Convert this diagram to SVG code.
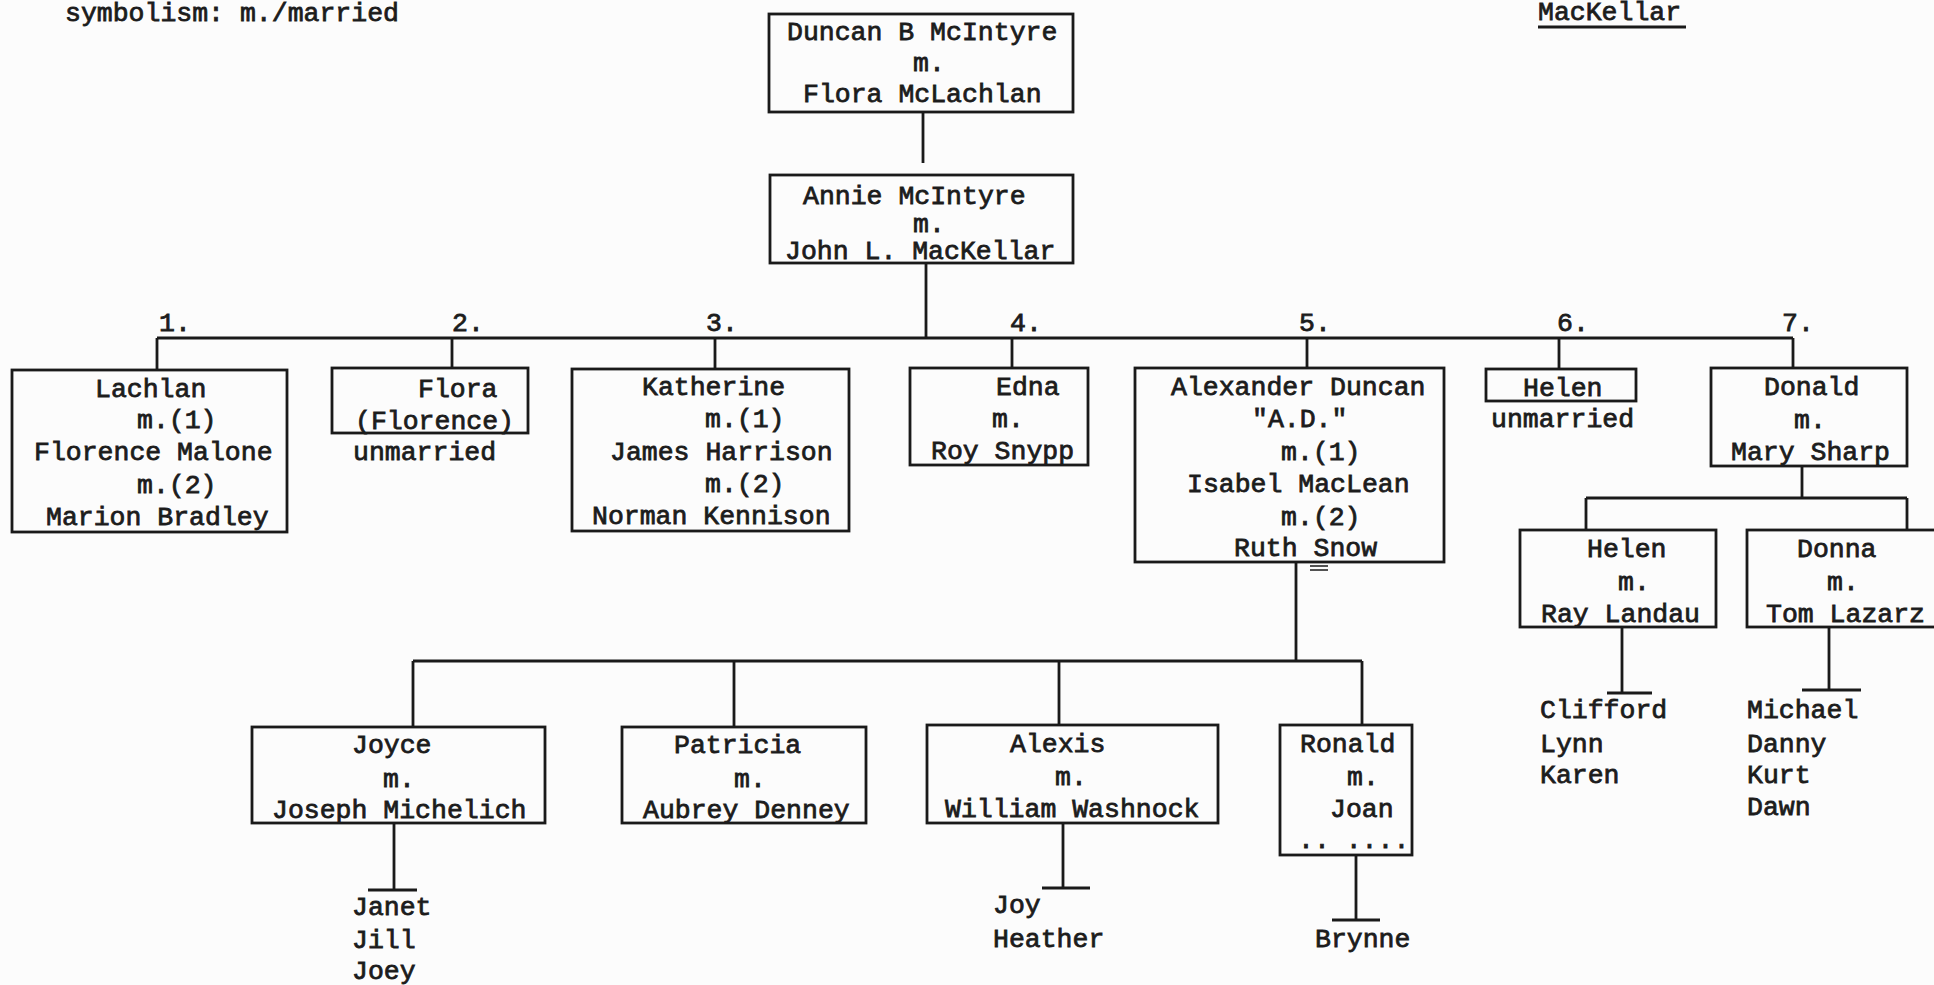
<svg xmlns="http://www.w3.org/2000/svg" width="1934" height="985" viewBox="0 0 1934 985">
<style>
.t { font-family: "Liberation Mono", "DejaVu Sans Mono", monospace; font-size: 26.5px; fill: #1c1c1c; stroke: #1c1c1c; stroke-width: 0.8; }
.b { fill: none; stroke: #1a1a1a; stroke-width: 2.8; }
.c { fill: none; stroke: #1a1a1a; stroke-width: 2.8; }
</style>
<rect x="0" y="0" width="1934" height="985" fill="#fcfcfc"/>

<g id="header">
<text class="t" x="65" y="21">symbolism: m./married</text>
<text class="t" x="1538" y="20">MacKellar</text>
<line class="c" x1="1538" y1="27" x2="1686" y2="27"/>
</g>

<g id="connectors">
<path class="c" d="M923 112 V163"/>
<path class="c" d="M926 263 V338"/>
<path class="c" d="M157 338 H1793"/>
<path class="c" d="M157 338 V370 M452 338 V368 M715 338 V369 M1012 338 V368 M1307 338 V368 M1559 338 V369 M1793 338 V368"/>
<path class="c" d="M1802 466 V498 M1586 498 H1907 M1586 498 V530 M1907 498 V530"/>
<path class="c" d="M1296 562 V661 M413 661 H1362 M413 661 V727 M734 661 V727 M1059 661 V725 M1362 661 V725"/>
<path class="c" d="M394 823 V890 M368 890 H417"/>
<path class="c" d="M1063 823 V888 M1042 888 H1090"/>
<path class="c" d="M1356 855 V920 M1332 920 H1380"/>
<path class="c" d="M1622 627 V693 M1607 693 H1652"/>
<path class="c" d="M1829 627 V690 M1802 690 H1861"/>
</g>

<g id="numbers">
<text class="t" x="159" y="331">1.</text>
<text class="t" x="452" y="331">2.</text>
<text class="t" x="706" y="331">3.</text>
<text class="t" x="1010" y="331">4.</text>
<text class="t" x="1299" y="331">5.</text>
<text class="t" x="1557" y="331">6.</text>
<text class="t" x="1782" y="331">7.</text>
</g>

<g id="duncan">
<rect class="b" x="769" y="14" width="304" height="98"/>
<text class="t" x="787" y="40">Duncan B McIntyre</text>
<text class="t" x="913" y="71">m.</text>
<text class="t" x="803" y="102">Flora McLachlan</text>
</g>

<g id="annie">
<rect class="b" x="770" y="175" width="303" height="88"/>
<text class="t" x="803" y="204">Annie McIntyre</text>
<text class="t" x="913" y="232">m.</text>
<text class="t" x="785" y="259">John L. MacKellar</text>
</g>

<g id="lachlan">
<rect class="b" x="12" y="370" width="275" height="162"/>
<text class="t" x="95" y="397">Lachlan</text>
<text class="t" x="137" y="428">m.(1)</text>
<text class="t" x="34" y="460">Florence Malone</text>
<text class="t" x="137" y="493">m.(2)</text>
<text class="t" x="46" y="525">Marion Bradley</text>
</g>

<g id="flora">
<rect class="b" x="332" y="368" width="196" height="65"/>
<text class="t" x="418" y="397">Flora</text>
<text class="t" x="355" y="429">(Florence)</text>
<text class="t" x="353" y="460">unmarried</text>
</g>

<g id="katherine">
<rect class="b" x="572" y="369" width="277" height="162"/>
<text class="t" x="642" y="395">Katherine</text>
<text class="t" x="705" y="427">m.(1)</text>
<text class="t" x="610" y="460">James Harrison</text>
<text class="t" x="705" y="492">m.(2)</text>
<text class="t" x="592" y="524">Norman Kennison</text>
</g>

<g id="edna">
<rect class="b" x="910" y="368" width="178" height="97"/>
<text class="t" x="996" y="395">Edna</text>
<text class="t" x="992" y="427">m.</text>
<text class="t" x="931" y="459">Roy Snypp</text>
</g>

<g id="alexander">
<rect class="b" x="1135" y="368" width="309" height="194"/>
<text class="t" x="1171" y="395">Alexander Duncan</text>
<text class="t" x="1252" y="427">"A.D."</text>
<text class="t" x="1281" y="460">m.(1)</text>
<text class="t" x="1187" y="492">Isabel MacLean</text>
<text class="t" x="1281" y="525">m.(2)</text>
<text class="t" x="1234" y="556">Ruth Snow</text>
<path class="c" d="M1310 566 H1328 M1310 570 H1328" style="stroke-width:1.6"/>
</g>

<g id="helen6">
<rect class="b" x="1486" y="369" width="150" height="32"/>
<text class="t" x="1523" y="396">Helen</text>
<text class="t" x="1491" y="427">unmarried</text>
</g>

<g id="donald">
<rect class="b" x="1711" y="368" width="196" height="98"/>
<text class="t" x="1764" y="395">Donald</text>
<text class="t" x="1794" y="428">m.</text>
<text class="t" x="1731" y="460">Mary Sharp</text>
</g>

<g id="helen2">
<rect class="b" x="1520" y="530" width="196" height="97"/>
<text class="t" x="1587" y="557">Helen</text>
<text class="t" x="1618" y="590">m.</text>
<text class="t" x="1541" y="622">Ray Landau</text>
</g>

<g id="donna">
<rect class="b" x="1747" y="530" width="200" height="97"/>
<text class="t" x="1797" y="557">Donna</text>
<text class="t" x="1827" y="590">m.</text>
<text class="t" x="1766" y="622">Tom Lazarz</text>
</g>

<g id="joyce">
<rect class="b" x="252" y="727" width="293" height="96"/>
<text class="t" x="352" y="753">Joyce</text>
<text class="t" x="383" y="787">m.</text>
<text class="t" x="272" y="818">Joseph Michelich</text>
</g>

<g id="patricia">
<rect class="b" x="622" y="727" width="244" height="96"/>
<text class="t" x="674" y="753">Patricia</text>
<text class="t" x="734" y="787">m.</text>
<text class="t" x="643" y="818">Aubrey Denney</text>
</g>

<g id="alexis">
<rect class="b" x="927" y="725" width="291" height="98"/>
<text class="t" x="1010" y="752">Alexis</text>
<text class="t" x="1055" y="785">m.</text>
<text class="t" x="945" y="817">William Washnock</text>
</g>

<g id="ronald">
<rect class="b" x="1280" y="725" width="132" height="130"/>
<text class="t" x="1300" y="752">Ronald</text>
<text class="t" x="1347" y="785">m.</text>
<text class="t" x="1330" y="817">Joan</text>
<text class="t" x="1298" y="848">.. ....</text>
</g>

<g id="joyce-children">
<text class="t" x="352" y="915">Janet</text>
<text class="t" x="352" y="948">Jill</text>
<text class="t" x="352" y="979">Joey</text>
</g>

<g id="alexis-children">
<text class="t" x="993" y="913">Joy</text>
<text class="t" x="993" y="947">Heather</text>
</g>

<g id="ronald-children">
<text class="t" x="1315" y="947">Brynne</text>
</g>

<g id="helen2-children">
<text class="t" x="1540" y="718">Clifford</text>
<text class="t" x="1540" y="752">Lynn</text>
<text class="t" x="1540" y="783">Karen</text>
</g>

<g id="donna-children">
<text class="t" x="1747" y="718">Michael</text>
<text class="t" x="1747" y="752">Danny</text>
<text class="t" x="1747" y="783">Kurt</text>
<text class="t" x="1747" y="815">Dawn</text>
</g>
</svg>
